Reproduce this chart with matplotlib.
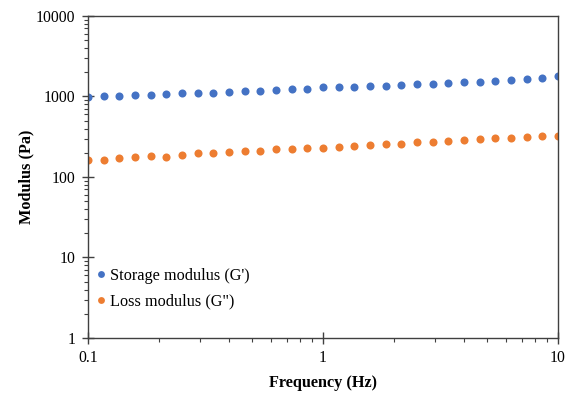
import numpy as np
import matplotlib
matplotlib.use("Agg")
import matplotlib.pyplot as plt
from matplotlib.ticker import LogLocator, FixedLocator, NullFormatter, FixedFormatter

plt.rcParams['font.family'] = ['Liberation Serif', 'DejaVu Serif']

# frequency sweep, 15 points per decade
freq = [0.1, 0.1166, 0.1359, 0.1585, 0.1848, 0.2154, 0.2512, 0.2929, 0.3415, 0.3981,
        0.4642, 0.5412, 0.6310, 0.7356, 0.8577, 1.0, 1.166, 1.359, 1.585, 1.848,
        2.154, 2.512, 2.929, 3.415, 3.981, 4.642, 5.412, 6.310, 7.356, 8.577, 10.0]
storage = [994, 1006, 1023, 1035, 1052, 1074, 1097, 1115, 1115, 1148,
           1171, 1181, 1205, 1230, 1251, 1294, 1300, 1313, 1352, 1363,
           1390, 1419, 1444, 1472, 1502, 1528, 1573, 1605, 1652, 1684, 1784]
loss = [161, 162, 173, 178, 182, 178, 187, 197, 197, 202,
        210, 212, 220, 224, 229, 232, 235, 242, 249, 254,
        259, 269, 274, 280, 285, 294, 302, 305, 314, 320, 323]

yticks = [1, 10, 100, 1000, 10000]
xticks = [0.1, 1, 10]

fig = plt.figure(figsize=(5.72, 3.96), dpi=100)
ax = fig.add_axes([0.1538, 0.1465, 0.8217, 0.8131])

ax.plot(freq, storage, "o", color="#4472C4", ms=5.8, mec="none", label="Storage modulus (G')")
ax.plot(freq, loss, "o", color="#ED7D31", ms=5.8, mec="none", label='Loss modulus (G")')

ax.set_xscale('log')
ax.set_yscale('log')
ax.set_xlim(0.1, 10)
ax.set_ylim(1, 10000)

ax.xaxis.set_major_locator(FixedLocator(xticks))
ax.xaxis.set_major_formatter(FixedFormatter([str(t) for t in xticks]))
ax.yaxis.set_major_locator(FixedLocator(yticks))
ax.yaxis.set_major_formatter(FixedFormatter([str(t) for t in yticks]))
ax.xaxis.set_minor_locator(LogLocator(base=10, subs=np.arange(2, 10)))
ax.yaxis.set_minor_locator(LogLocator(base=10, subs=np.arange(2, 10)))
ax.xaxis.set_minor_formatter(NullFormatter())
ax.yaxis.set_minor_formatter(NullFormatter())

ax.tick_params(which='major', direction='inout', length=8, width=1, labelsize=11.3, color='#404040')
ax.tick_params(which='minor', direction='out', length=3, width=0.8, color='#404040')
ax.tick_params(axis='x', which='major', pad=5)
ax.tick_params(axis='y', which='major', pad=5)
for s in ax.spines.values():
    s.set_color('#404040')
    s.set_linewidth(1.0)

ax.set_xlabel("Frequency (Hz)", fontsize=11.7, fontweight='bold', labelpad=6)
ax.set_ylabel("Modulus (Pa)", fontsize=11.7, fontweight='bold', labelpad=1)

ax.legend(loc='lower left', bbox_to_anchor=(-0.025, 0.043), frameon=False, fontsize=11.7,
          handletextpad=0.0, labelspacing=0.6, handlelength=1.2, markerscale=0.85)

plt.savefig("out.png", dpi=100)
